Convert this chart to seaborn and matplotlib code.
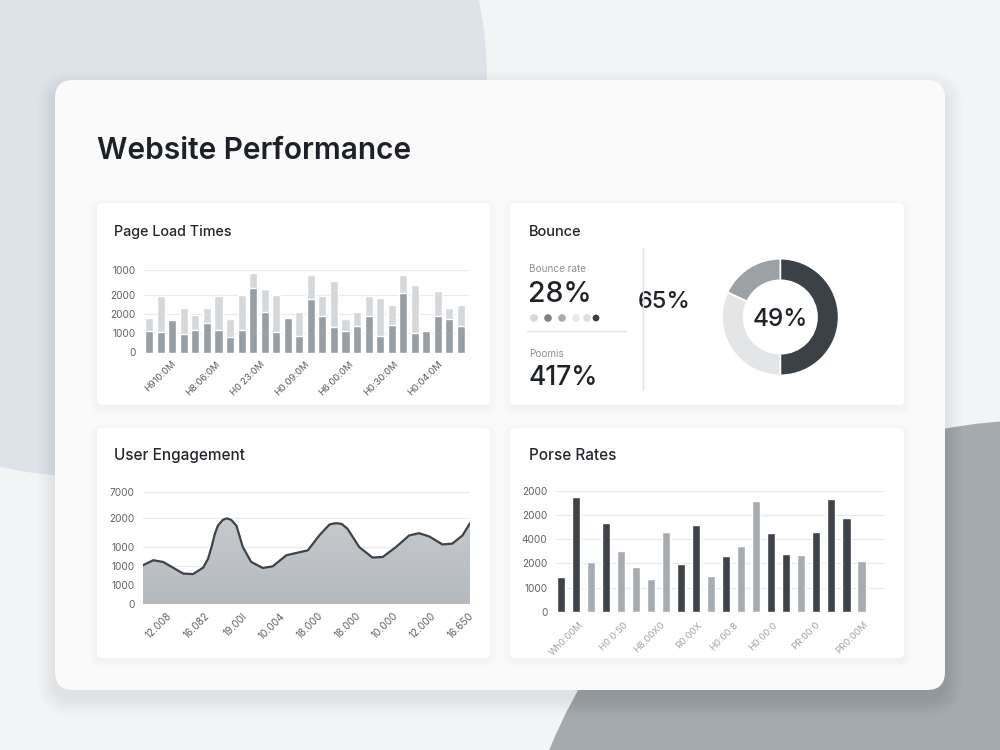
import numpy as np
import pandas as pd
import matplotlib
matplotlib.use("Agg")
import matplotlib.pyplot as plt
import seaborn as sns
from matplotlib.patches import FancyBboxPatch, Circle
from matplotlib.colors import LinearSegmentedColormap

# ---------------- data ----------------
load_dark = [1100, 1070, 1680, 980, 1190, 1560, 1180, 820, 1160, 3370, 2120, 1090, 1790, 860,
             2810, 1910, 1320, 1140, 1370, 1880, 860, 1420, 3110, 1040, 1140, 1890, 1740, 1400]
load_total = [1820, 2960, 1680, 2330, 1980, 2320, 2960, 1750, 2980, 4140, 3300, 3020, 1790, 2120,
              4050, 2960, 3720, 1750, 2120, 2960, 2860, 2490, 4030, 3510, 1140, 3210, 2320, 2470]
load_xlabels = ["H910:0M", "H8:06:0M", "H0 23:0M", "H0.09:0M", "H6:00:0M", "H0:30:0M", "H0:04:0M"]
load_yticks = [0, 1000, 2000, 3000, 4300]
load_ylabels = ["0", "1000", "2000", "2000", "1000"]

bounce_rate_label = "Bounce rate"
bounce_rate_value = "28%"
bounce_mid_value = "65%"
bounce_second_label = "Poomis"
bounce_second_value = "417%"
bounce_center_value = "49%"
donut_shares = [50, 32, 18]
dot_colors = ["#d6d8db", "#7c8288", "#a9adb1", "#e6e7e9", "#dcdee0", "#3a3f45"]

eng_x = [-0.63, -0.35, -0.09, 0.17, 0.44, 0.70, 0.97, 1.10, 1.19, 1.28, 1.36, 1.49, 1.60, 1.71,
         1.85, 2.02, 2.24, 2.55, 2.81, 3.17, 3.43, 3.74, 4.04, 4.31, 4.42, 4.53, 4.64, 4.79,
         5.10, 5.45, 5.72, 6.07, 6.42, 6.68, 6.95, 7.30, 7.56, 7.83, 8.03]
eng_y = [2030, 2300, 2210, 1910, 1600, 1570, 1910, 2380, 2990, 3690, 4120, 4420, 4500, 4420,
         4120, 2990, 2210, 1890, 1980, 2560, 2680, 2820, 3600, 4170, 4230, 4240, 4200, 3950,
         2990, 2440, 2470, 2990, 3600, 3720, 3550, 3130, 3170, 3600, 4240]
eng_xlabels = ["12.008", "16.082", "19.00l", "10.004", "18.000", "18.000", "10.000", "12.000", "16.650"]
eng_yticks = [0, 1000, 2000, 3000, 4500, 5900]
eng_ylabels = ["0", "1000", "1000", "1000", "2000", "7000"]

por_vals = [1460, 4730, 2050, 3670, 2500, 1840, 1350, 3280, 1980, 3570, 1500, 2290, 2720, 4560,
            3240, 2380, 2350, 3280, 4670, 3860, 2100]
por_group = ["dark", "dark", "light", "dark", "light", "light", "light", "light", "dark", "dark",
             "light", "dark", "light", "light", "dark", "dark", "light", "dark", "dark", "dark", "light"]
por_xlabels = ["Wh0:00M", "H0 0:50", "H8.00X0", "R0.00X", "H0:00:8", "H0:00:0", "PR:00:0", "PR0:00M"]
por_yticks = [0, 1000, 2000, 3000, 4000, 5000]
por_ylabels = ["0", "1000", "2000", "4000", "2000", "2000"]

# ---------------- style ----------------
sns.set_theme(style="white")
plt.rcParams["font.family"] = ["Inter", "DejaVu Sans"]

W, H = 1000, 750
fig = plt.figure(figsize=(10, 7.5), dpi=100)
fig.patch.set_facecolor("#f3f4f5")

bg = fig.add_axes([0, 0, 1, 1], zorder=-10)
bg.set_xlim(0, W)
bg.set_ylim(H, 0)
bg.axis("off")

# background blobs
bg.add_patch(Circle((90, 80), 397, facecolor="#dee3e9", edgecolor="none"))
bg.add_patch(Circle((1040, 950), 530, facecolor="#a5aaaf", edgecolor="none"))


def rrect(x0, y0, x1, y1, r, fc, alpha=1.0, z=1):
    p = FancyBboxPatch((x0 + r, y0 + r), (x1 - x0) - 2 * r, (y1 - y0) - 2 * r,
                       boxstyle=f"round,pad={r}", facecolor=fc, edgecolor="none",
                       alpha=alpha, zorder=z)
    bg.add_patch(p)


def shadow(x0, y0, x1, y1, r, spread, dy, alpha, z):
    for k in range(spread, 0, -1):
        rrect(x0 - k, y0 - k + dy, x1 + k, y1 + k + dy, r + k, "#000000", alpha=alpha, z=z)


# main card
shadow(55, 80, 945, 690, 18, 18, 9, 0.0045, 1)
rrect(55, 80, 945, 690, 18, "#fafafa", z=2)

# panels
panels = [(97, 203, 490, 405), (510, 203, 904, 405), (97, 428, 490, 658), (510, 428, 904, 658)]
for (x0, y0, x1, y1) in panels:
    shadow(x0, y0, x1, y1, 5, 7, 3, 0.0055, 3)
    rrect(x0, y0, x1, y1, 5, "#ffffff", z=4)

# title texts
bg.text(97, 159, "Website Performance", fontsize=21.5, fontweight="semibold",
        color="#1d2127", va="baseline", ha="left", zorder=10)
bg.text(114, 236, "Page Load Times", fontsize=10.3, fontweight="medium", color="#23272c",
        va="baseline", zorder=10)
bg.text(529, 236, "Bounce", fontsize=10.5, fontweight="medium", color="#23272c",
        va="baseline", zorder=10)
bg.text(114, 460, "User Engagement", fontsize=11, fontweight="medium", color="#23272c",
        va="baseline", zorder=10)
bg.text(529, 460, "Porse Rates", fontsize=11, fontweight="medium", color="#23272c",
        va="baseline", zorder=10)

# bounce panel texts
bg.text(529, 272, bounce_rate_label, fontsize=7.2, color="#8d9196", va="baseline", zorder=10)
bg.text(528, 302, bounce_rate_value, fontsize=20.5, fontweight="medium", color="#1f2328",
        va="baseline", zorder=10)
bg.text(638, 308, bounce_mid_value, fontsize=17, fontweight="medium", color="#1f2328",
        va="baseline", zorder=10)
bg.text(529, 357, bounce_second_label, fontsize=7.2, color="#8d9196", va="baseline", zorder=10)
bg.text(528, 385, bounce_second_value, fontsize=19, fontweight="medium", color="#1f2328",
        va="baseline", zorder=10)
dot_x = [534, 548, 562, 576, 587, 596]
dot_s = [30, 30, 30, 30, 30, 24]
bg.scatter(dot_x, [318] * 6, s=dot_s, c=dot_colors, edgecolors="none", zorder=10)
bg.plot([527, 626], [331, 331], color="#e2e3e5", lw=1, zorder=10)
bg.plot([643, 643], [248, 390], color="#e2e3e5", lw=1, zorder=10)


def add_ax(x0, y0, x1, y1):
    return fig.add_axes([x0 / W, 1 - y1 / H, (x1 - x0) / W, (y1 - y0) / H])


tick_col = "#5f6469"
grid_col = "#e9eaec"


def style_ax(ax):
    for s in ax.spines.values():
        s.set_visible(False)
    ax.set_facecolor("none")
    ax.tick_params(length=0, labelsize=7.3, colors=tick_col)
    ax.set_xlabel("")
    ax.set_ylabel("")


# ---------------- Page Load Times ----------------
ax1 = add_ax(144.3, 270, 468.7, 352.5)
n1 = len(load_total)
df1 = pd.DataFrame({"idx": list(range(n1)), "total": load_total, "dark": load_dark})
sns.barplot(data=df1, x="idx", y="total", color="#d5d8db", saturation=1, width=0.7, ax=ax1, zorder=3)
sns.barplot(data=df1, x="idx", y="dark", color="#979ea4", saturation=1, width=0.7, ax=ax1, zorder=4)
ax1.set_xlim(-0.43, n1 - 0.33)
ax1.set_ylim(0, load_yticks[-1])
ax1.set_yticks(load_yticks)
ax1.set_yticklabels(load_ylabels)
for v in load_yticks:
    ax1.axhline(v, color=grid_col, lw=0.9, zorder=1)
ax1.set_xticks(np.linspace(1.9, 25.0, len(load_xlabels)))
ax1.set_xticklabels(load_xlabels, rotation=45, ha="right", rotation_mode="anchor")
style_ax(ax1)
ax1.tick_params(axis="y", pad=6)
ax1.tick_params(axis="x", pad=5, labelsize=6.8, colors="#55595e")

# ---------------- Donut ----------------
r = 58.3
axd = add_ax(780.3 - r, 317 - r, 780.3 + r, 317 + r)
axd.pie(donut_shares, colors=["#3b4147", "#e4e5e7", "#9ca1a6"], startangle=90, counterclock=False,
        wedgeprops=dict(width=0.37, edgecolor="white", linewidth=1.2))
axd.set_xlim(-1, 1)
axd.set_ylim(-1, 1)
axd.set_aspect("auto")
axd.axis("off")
bg.text(780.3, 326.5, bounce_center_value, fontsize=17.5, fontweight="medium", color="#1f2328",
        va="baseline", ha="center", zorder=10)

# ---------------- User Engagement ----------------
ax3 = add_ax(142.7, 491.7, 470, 604)
xmin3, xmax3 = -0.63, 8.03
grad = np.linspace(1, 0, 256).reshape(-1, 1)
cmap = LinearSegmentedColormap.from_list("g", ["#c6cacd", "#b4b9be"])
im = ax3.imshow(grad, extent=[xmin3, xmax3, 0, max(eng_y)], aspect="auto", cmap=cmap,
                origin="lower", zorder=2)
poly = ax3.fill_between(eng_x, eng_y, 0, color="none", lw=0)
im.set_clip_path(poly.get_paths()[0], transform=ax3.transData)
sns.lineplot(x=eng_x, y=eng_y, color="#3d4349", lw=1.6, ax=ax3, zorder=4, sort=False)
for v in eng_yticks:
    ax3.axhline(v, color=grid_col, lw=0.9, zorder=1)
ax3.set_xlim(xmin3, xmax3)
ax3.set_ylim(0, eng_yticks[-1])
ax3.set_yticks(eng_yticks)
ax3.set_yticklabels(eng_ylabels)
ax3.set_xticks(range(len(eng_xlabels)))
ax3.set_xticklabels(eng_xlabels, rotation=45, ha="right", rotation_mode="anchor")
style_ax(ax3)
ax3.tick_params(axis="y", pad=6)
ax3.tick_params(axis="x", pad=5)

# ---------------- Porse Rates ----------------
ax4 = add_ax(555.7, 490.7, 884, 612)
n4 = len(por_vals)
df4 = pd.DataFrame({"idx": list(range(n4)), "val": por_vals, "grp": por_group})
sns.barplot(data=df4, x="idx", y="val", hue="grp", palette={"dark": "#3d4349", "light": "#a7acb1"},
            saturation=1, width=0.55, dodge=False, legend=False, ax=ax4, zorder=3)
for v in por_yticks:
    ax4.axhline(v, color=grid_col, lw=0.9, zorder=1)
ax4.set_xlim(-0.33, 21.5)
ax4.set_ylim(0, por_yticks[-1])
ax4.set_yticks(por_yticks)
ax4.set_yticklabels(por_ylabels)
ax4.set_xticks([1.2, 4.2, 6.6, 9.1, 11.5, 14.1, 16.9, 20.1])
ax4.set_xticklabels(por_xlabels, rotation=45, ha="right", rotation_mode="anchor")
style_ax(ax4)
ax4.tick_params(axis="y", pad=6)
ax4.tick_params(axis="x", pad=6, labelsize=6.8, colors="#a0a4a8")

fig.savefig("out.png", dpi=100, facecolor=fig.get_facecolor())
